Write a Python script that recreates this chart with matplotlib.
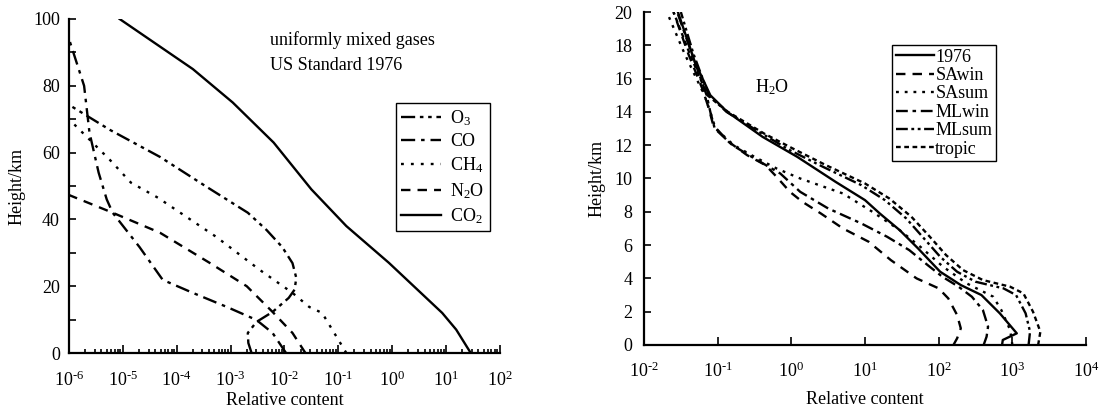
import numpy as np
import matplotlib
matplotlib.use("Agg")
import matplotlib.pyplot as plt
from matplotlib.ticker import LogLocator, MultipleLocator, NullLocator, FuncFormatter

plt.rcParams['font.family'] = ['Liberation Serif', 'DejaVu Serif']
plt.rcParams['mathtext.default'] = 'regular'
plt.rcParams['axes.unicode_minus'] = False

# ---- left panel: uniformly mixed gases (log10 relative content, height km)
o3_logx = [-2.61, -2.67, -2.68, -2.52, -2.22, -1.92, -1.81, -1.78, -1.85, -2.04, -2.33, -2.68, -3.44, -4.31, -5.24, -6.0]
o3_h    = [0, 3, 6, 9.3, 12.3, 16.5, 19, 22.5, 26.9, 31.7, 36.8, 42, 49.7, 58.7, 66.8, 74.3]
co_logx = [-1.97, -2.22, -2.52, -3.07, -3.70, -4.26, -4.69, -5.19, -5.30, -5.45, -5.62, -5.72, -6.0]
co_h    = [0, 6, 9.9, 13.8, 18, 21.9, 31.7, 42, 46, 54, 66, 80, 94]
ch4_logx = [-0.85, -1.30, -1.54, -1.85, -2.46, -3.26, -4.35, -4.85, -5.24, -6.0]
ch4_h    = [0, 12, 13.8, 18, 24.9, 34.7, 46.5, 51, 57.8, 70]
n2o_logx = [-1.61, -1.85, -2.22, -2.70, -3.39, -4.31, -5.19, -6.0]
n2o_h    = [0, 6, 12.3, 20, 27, 36, 42, 47.3]
co2_logx = [1.46, 1.19, 0.93, -0.06, -0.85, -1.50, -2.20, -2.96, -3.70, -5.06]
co2_h    = [0, 7, 12, 27, 38, 49, 63, 75, 85, 100]

# ---- right panel: H2O profiles
us76_logx = [2.86, 2.87, 3.06, 2.83, 2.58, 2.30, 2.02, 1.72, 1.47, 1.20, 1.0, 0.6, 0.08, -0.39, -0.87, -1.10, -1.31, -1.54]
us76_h    = [0, 0.3, 0.7, 1.9, 3.0, 3.6, 4.4, 5.8, 6.9, 7.9, 8.7, 9.8, 11.3, 12.5, 14, 15, 17, 20]
sawin_logx = [2.20, 2.25, 2.30, 2.25, 2.13, 2.0, 1.70, 1.35, 1.05, 0.70, 0.40, 0.15, -0.02, -0.20, -0.35, -0.60, -0.85, -1.06, -1.12, -1.20, -1.40, -1.60]
sawin_h    = [0, 0.4, 1.0, 1.8, 2.8, 3.4, 4.0, 5.1, 6.2, 7.0, 7.9, 8.6, 9.2, 10.1, 10.8, 11.4, 12.2, 13.2, 14.2, 15.3, 17.5, 20]
sasum_logx = [3.0, 2.97, 2.85, 2.74, 2.38, 2.06, 1.75, 1.47, 1.10, 0.70, 0.12, -0.20, -0.50, -0.78, -1.03, -1.10, -1.18, -1.45, -1.69]
sasum_h    = [0, 0.9, 2.1, 2.9, 3.7, 4.7, 5.9, 6.9, 8.0, 9.1, 10.0, 10.6, 11.3, 12.0, 13.0, 14.0, 15.0, 17.5, 20]
mlwin_logx = [2.61, 2.65, 2.67, 2.60, 2.45, 2.27, 2.05, 1.85, 1.60, 1.30, 0.95, 0.50, 0.12, -0.15, -0.50, -0.80, -1.04, -1.10, -1.15, -1.35, -1.55]
mlwin_h    = [0, 0.5, 1.1, 2.1, 2.9, 3.5, 4.1, 4.8, 5.7, 6.5, 7.3, 8.2, 9.2, 10.3, 11.2, 12.0, 13.0, 14.0, 15.0, 17.5, 20]
mlsum_logx = [3.22, 3.24, 3.18, 3.05, 2.88, 2.50, 2.25, 2.02, 1.80, 1.56, 1.27, 0.95, 0.43, -0.02, -0.40, -0.88, -1.12, -1.33, -1.50]
mlsum_h    = [0, 0.8, 1.9, 3.0, 3.4, 3.8, 4.4, 5.3, 6.4, 7.6, 8.7, 9.6, 10.7, 11.7, 12.7, 14, 15, 17.5, 20]
trop_logx = [3.35, 3.38, 3.28, 3.15, 2.97, 2.60, 2.33, 2.10, 1.88, 1.63, 1.33, 1.0, 0.47, 0.02, -0.37, -0.86, -1.14, -1.38, -1.60]
trop_h    = [0, 0.8, 2.0, 3.1, 3.5, 3.9, 4.5, 5.4, 6.5, 7.7, 8.8, 9.7, 10.8, 11.8, 12.7, 14, 15, 17.5, 20]


def pow10(v, pos):
    e = int(round(np.log10(v)))
    s = str(e).replace('-', '\u2010')
    return '10$^{' + s + '}$'


fs = 13
fig = plt.figure(figsize=(10.99, 4.11), dpi=100)
ax1 = fig.add_axes([0.0628, 0.1411, 0.392, 0.8127])
ax2 = fig.add_axes([0.586, 0.1606, 0.4022, 0.8102])

lw = 1.7
ax1.plot(10**np.array(o3_logx), o3_h, color='k', lw=lw, ls=(0, (6, 2, 1.5, 2, 1.5, 2)), label='O$_3$')
ax1.plot(10**np.array(co_logx), co_h, color='k', lw=lw, ls=(0, (6, 2.5, 1.5, 2.5)), label='CO')
ax1.plot(10**np.array(ch4_logx), ch4_h, color='k', lw=lw, ls=(0, (1.2, 3)), label='CH$_4$')
ax1.plot(10**np.array(n2o_logx), n2o_h, color='k', lw=lw, ls=(0, (4, 3)), label='N$_2$O')
ax1.plot(10**np.array(co2_logx), co2_h, color='k', lw=lw, ls='-', label='CO$_2$')

ax2.plot(10**np.array(us76_logx), us76_h, color='k', lw=lw, ls='-', label='1976')
ax2.plot(10**np.array(sawin_logx), sawin_h, color='k', lw=lw, ls=(0, (4, 3)), label='SAwin')
ax2.plot(10**np.array(sasum_logx), sasum_h, color='k', lw=lw, ls=(0, (1.2, 2.5)), label='SAsum')
ax2.plot(10**np.array(mlwin_logx), mlwin_h, color='k', lw=lw, ls=(0, (5, 2, 1.5, 2)), label='MLwin')
ax2.plot(10**np.array(mlsum_logx), mlsum_h, color='k', lw=lw, ls=(0, (5, 1.5, 1.2, 1.5, 1.2, 1.5)), label='MLsum')
ax2.plot(10**np.array(trop_logx), trop_h, color='k', lw=lw, ls=(0, (2, 1.5)), label='tropic')

for ax in (ax1, ax2):
    ax.set_xscale('log')
    ax.spines['top'].set_visible(False)
    ax.spines['right'].set_visible(False)
    ax.spines['left'].set_linewidth(1.6)
    ax.spines['bottom'].set_linewidth(1.6)
    ax.xaxis.set_major_formatter(FuncFormatter(pow10))
    ax.tick_params(which='both', direction='in', labelsize=fs, width=1.2)
    ax.tick_params(axis='x', which='major', length=6)
    ax.tick_params(axis='x', which='minor', length=3)
    ax.set_xlabel('Relative content', fontsize=fs)
    ax.set_ylabel('Height/km', fontsize=fs)

ax1.set_xlim(1e-6, 1e2)
ax1.set_ylim(0, 100)
ax1.xaxis.set_major_locator(LogLocator(base=10, numticks=20))
ax1.xaxis.set_minor_locator(LogLocator(base=10, subs=np.arange(2, 10), numticks=100))
ax1.yaxis.set_major_locator(MultipleLocator(20))
ax1.yaxis.set_minor_locator(MultipleLocator(10))
ax1.tick_params(axis='x', which='major', pad=13)
ax1.tick_params(axis='y', which='both', length=5, pad=6.5)
ax1.xaxis.set_label_coords(0.5, -0.117)
ax1.yaxis.set_label_coords(-0.10, 0.5)
ax1.text(0.466, 0.937, 'uniformly mixed gases', transform=ax1.transAxes, fontsize=fs, va='center')
ax1.text(0.466, 0.862, 'US Standard 1976', transform=ax1.transAxes, fontsize=fs, va='center')
leg1 = ax1.legend(loc='upper left', bbox_to_anchor=(0.759, 0.749), borderaxespad=0,
                  fontsize=fs, handlelength=2.2, handletextpad=0.5, labelspacing=0.3,
                  fancybox=False, framealpha=1, edgecolor='k', borderpad=0.3)
leg1.get_frame().set_linewidth(1.0)

ax2.set_xlim(1e-2, 1e4)
ax2.set_ylim(0, 20)
ax2.xaxis.set_major_locator(LogLocator(base=10, numticks=20))
ax2.xaxis.set_minor_locator(NullLocator())
ax2.yaxis.set_major_locator(MultipleLocator(2))
ax2.tick_params(axis='x', which='major', pad=12)
ax2.tick_params(axis='y', which='major', length=5, pad=8.5)
ax2.xaxis.set_label_coords(0.5, -0.138)
ax2.yaxis.set_label_coords(-0.088, 0.5)
ax2.text(0.251, 0.775, 'H$_2$O', transform=ax2.transAxes, fontsize=fs, va='center')
leg2 = ax2.legend(loc='upper left', bbox_to_anchor=(0.561, 0.901), borderaxespad=0,
                  fontsize=fs, handlelength=2.1, handletextpad=0.1, labelspacing=0.08,
                  fancybox=False, framealpha=1, edgecolor='k', borderpad=0.2)
leg2.get_frame().set_linewidth(1.0)

fig.savefig('out.png', dpi=100)
